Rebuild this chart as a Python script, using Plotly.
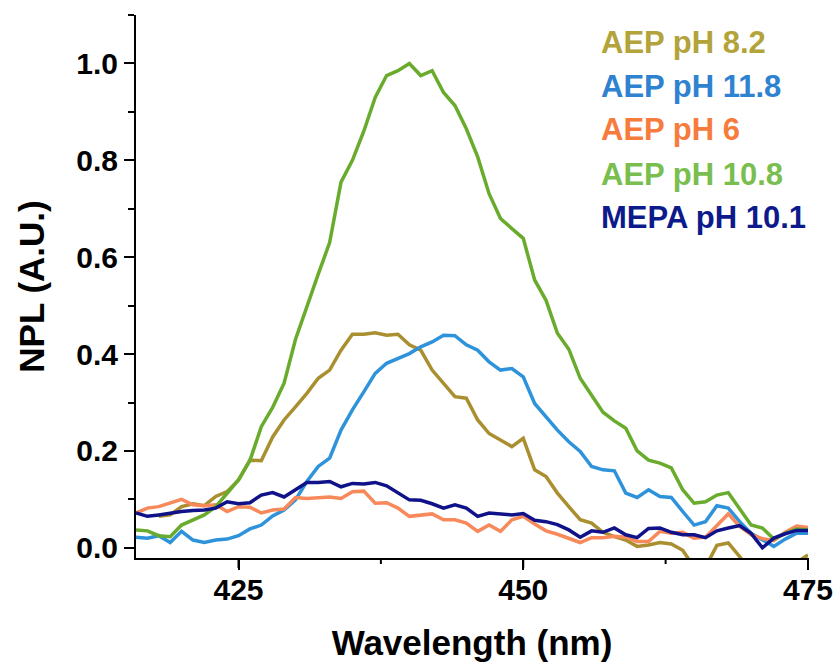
import plotly.graph_objects as go

wavelength = list(range(416, 476))
wavelength_gold = list(range(418, 476))

aep_ph82 = [0.065, 0.068, 0.085, 0.091, 0.087, 0.106, 0.116, 0.14, 0.181, 0.18,
            0.229, 0.264, 0.291, 0.319, 0.35, 0.367, 0.408, 0.441, 0.441, 0.444,
            0.439, 0.441, 0.419, 0.408, 0.367, 0.34, 0.312, 0.309, 0.264, 0.236,
            0.223, 0.209, 0.226, 0.161, 0.147, 0.113, 0.085, 0.058, 0.051, 0.032,
            0.023, 0.016, 0.003, 0.006, 0.011, 0.008, -0.005, -0.04, -0.04, 0.005,
            0.01, -0.018, -0.05, -0.06, -0.05, -0.04, -0.03, -0.015]

aep_ph118 = [0.022, 0.02, 0.025, 0.011, 0.034, 0.016, 0.011, 0.016, 0.018, 0.025,
             0.039, 0.047, 0.066, 0.078, 0.099, 0.137, 0.168, 0.185, 0.243, 0.285,
             0.322, 0.36, 0.381, 0.391, 0.401, 0.415, 0.425, 0.439, 0.438, 0.419,
             0.408, 0.384, 0.367, 0.37, 0.353, 0.298, 0.271, 0.243, 0.219, 0.199,
             0.168, 0.161, 0.159, 0.113, 0.104, 0.12, 0.106, 0.104, 0.075, 0.047,
             0.054, 0.087, 0.082, 0.054, 0.03, 0.016, 0.003, 0.018, 0.03, 0.03]

aep_ph6 = [0.072, 0.082, 0.085, 0.092, 0.10, 0.089, 0.087, 0.089, 0.075, 0.085,
           0.084, 0.072, 0.078, 0.08, 0.104, 0.102, 0.103, 0.105, 0.102, 0.116,
           0.117, 0.092, 0.093, 0.082, 0.065, 0.068, 0.07, 0.058, 0.058, 0.051,
           0.034, 0.047, 0.034, 0.058, 0.065, 0.049, 0.035, 0.028, 0.02, 0.011,
           0.021, 0.021, 0.024, 0.022, 0.013, 0.013, 0.034, 0.03, 0.032, 0.02,
           0.022, 0.046, 0.07, 0.044, 0.027, 0.019, 0.015, 0.032, 0.045, 0.042]

aep_ph108 = [0.037, 0.035, 0.025, 0.023, 0.047, 0.058, 0.068, 0.085, 0.113, 0.14,
             0.18, 0.25, 0.29, 0.34, 0.43, 0.50, 0.565, 0.63, 0.755, 0.80,
             0.86, 0.93, 0.975, 0.985, 1.0, 0.975, 0.985, 0.94, 0.913, 0.865,
             0.807, 0.731, 0.68, 0.659, 0.639, 0.553, 0.511, 0.443, 0.41, 0.35,
             0.315, 0.28, 0.262, 0.247, 0.20, 0.181, 0.175, 0.165, 0.12, 0.092,
             0.095, 0.109, 0.114, 0.08, 0.047, 0.041, 0.018, 0.03, 0.039, 0.037]

mepa_ph101 = [0.072, 0.065, 0.068, 0.072, 0.075, 0.077, 0.078, 0.082, 0.095, 0.091,
              0.093, 0.109, 0.114, 0.105, 0.12, 0.135, 0.135, 0.137, 0.126, 0.133,
              0.132, 0.135, 0.128, 0.113, 0.099, 0.098, 0.091, 0.082, 0.089, 0.082,
              0.065, 0.072, 0.07, 0.068, 0.071, 0.057, 0.054, 0.048, 0.037, 0.022,
              0.035, 0.032, 0.041, 0.027, 0.021, 0.04, 0.041, 0.032, 0.027, 0.027,
              0.021, 0.035, 0.041, 0.046, 0.03, 0.0, 0.02, 0.029, 0.036, 0.036]

series_names = ["AEP pH 8.2", "AEP pH 11.8", "AEP pH 6", "AEP pH 10.8", "MEPA pH 10.1"]
line_colors = ["#A98F2F", "#2E93DA", "#F7895A", "#69AB2C", "#10128A"]
text_colors = ["#B2A33A", "#2F82CF", "#F77B3C", "#79BE4E", "#0D1A8C"]

x_ticks = [425, 450, 475]
x_ticklabels = ["425", "450", "475"]
x_minor_ticks = [437.5, 462.5]
y_ticks = [0.0, 0.2, 0.4, 0.6, 0.8, 1.0]
y_ticklabels = ["0.0", "0.2", "0.4", "0.6", "0.8", "1.0"]
x_range = [416, 475]
y_range = [-0.021, 1.1]

FONT = "Liberation Sans, Arial, sans-serif"
PLOT_H = 662 - 15 - 104

fig = go.Figure()
xs = [wavelength_gold, wavelength, wavelength, wavelength, wavelength]
ys = [aep_ph82, aep_ph118, aep_ph6, aep_ph108, mepa_ph101]
for x, y, name, c in zip(xs, ys, series_names, line_colors):
    fig.add_trace(go.Scatter(x=x, y=y, mode="lines", name=name,
                             line=dict(color=c, width=3.5), showlegend=False))

legend_y_px = [43, 86, 129, 174, 217]
for name, c, ypx in zip(series_names, text_colors, legend_y_px):
    fig.add_annotation(text=name, xref="paper", yref="paper",
                       x=(599 - 136) / 672, y=(558 - ypx) / 543,
                       xanchor="left", yanchor="middle", showarrow=False,
                       font=dict(family=FONT, size=31, color=c, weight="bold"))

# outside tick marks of the x axis (major and minor), placed from the tick lists
def frac(v):
    return (v - x_range[0]) / (x_range[1] - x_range[0])

for v in x_ticks:
    fig.add_shape(type="line", xref="paper", yref="paper",
                  x0=frac(v), x1=frac(v), y0=0, y1=-10 / PLOT_H,
                  line=dict(color="black", width=2), layer="above")
for v in x_minor_ticks:
    fig.add_shape(type="line", xref="paper", yref="paper",
                  x0=frac(v), x1=frac(v), y0=0, y1=-6 / PLOT_H,
                  line=dict(color="black", width=2), layer="above")

fig.update_layout(
    width=837, height=662,
    margin=dict(l=136, r=29, t=15, b=104),
    paper_bgcolor="white", plot_bgcolor="white",
    font=dict(family=FONT, color="black"),
    xaxis=dict(
        range=x_range, showgrid=False, zeroline=False, automargin=False,
        showline=True, linecolor="black", linewidth=2,
        ticks="outside", ticklen=10, tickwidth=2, tickcolor="black",
        tickvals=x_ticks, ticktext=x_ticklabels,
        tickfont=dict(family=FONT, size=30, color="black", weight="bold"),
        ticklabelstandoff=-6,
        title=dict(text="Wavelength (nm)", standoff=30,
                   font=dict(family=FONT, size=35, color="black", weight="bold")),
    ),
    yaxis=dict(
        range=y_range, showgrid=False, zeroline=False, automargin=False,
        showline=True, linecolor="black", linewidth=2,
        ticks="outside", ticklen=10, tickwidth=2, tickcolor="black",
        tickvals=y_ticks, ticktext=y_ticklabels,
        tickfont=dict(family=FONT, size=30, color="black", weight="bold"),
        ticklabelstandoff=0,
        minor=dict(ticks="outside", ticklen=6, tickwidth=2, tickcolor="black",
                   tick0=0, dtick=0.1),
        title=dict(text="NPL (A.U.)", standoff=21,
                   font=dict(family=FONT, size=35, color="black", weight="bold")),
    ),
)

fig.write_html("out.html", config={"displayModeBar": False},
               post_script="document.body.style.margin='0px';document.body.style.overflow='hidden';")
